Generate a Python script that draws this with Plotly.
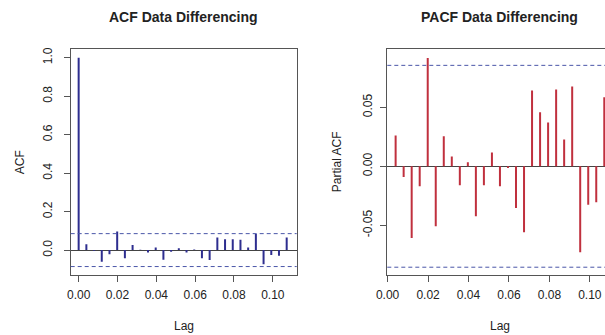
import plotly.graph_objects as go

# ---- data ----
acf_lags = [k / 252 for k in range(0, 28)]
acf_vals = [1.0, 0.031, -0.003, -0.061, -0.021, 0.096, -0.043, 0.026, 0.002,
            -0.012, 0.014, -0.050, -0.009, 0.010, -0.012, 0.003, -0.043, -0.052,
            0.066, 0.057, 0.057, 0.054, 0.014, 0.083, -0.073, -0.026, -0.030, 0.066]
pacf_lags = [k / 252 for k in range(1, 28)]
pacf_vals = [0.026, -0.009, -0.0607, -0.017, 0.0918, -0.0508, 0.0254, 0.0082,
             -0.0161, 0.0034, -0.0424, -0.0161, 0.0116, -0.017, -0.0014, -0.0353,
             -0.0559, 0.0641, 0.0458, 0.037, 0.065, 0.0226, 0.0675, -0.0729,
             -0.0325, -0.0305, 0.0585]
ci = 0.0855
x_ticks = [0.00, 0.02, 0.04, 0.06, 0.08, 0.10]
acf_yticks = [0.0, 0.2, 0.4, 0.6, 0.8, 1.0]
pacf_yticks = [-0.05, 0.0, 0.05]

W, H = 605, 335
FONT = "Liberation Sans, Arial, sans-serif"
TXT = "#222222"


def spikes(xs, ys):
    px, py = [], []
    for x, y in zip(xs, ys):
        px += [x, x, None]
        py += [0, y, None]
    return px, py


fig = go.Figure()
ax, ay = spikes(acf_lags, acf_vals)
fig.add_trace(go.Scatter(x=ax, y=ay, mode="lines", xaxis="x", yaxis="y",
                         line=dict(color="#2e2e8f", width=2), hoverinfo="skip",
                         showlegend=False))
px_, py_ = spikes(pacf_lags, pacf_vals)
fig.add_trace(go.Scatter(x=px_, y=py_, mode="lines", xaxis="x2", yaxis="y2",
                         line=dict(color="#c0303e", width=2), hoverinfo="skip",
                         showlegend=False))

# plot-box pixel geometry
L1, R1 = 70.7, 296.7
L2, R2 = 387.3, 605.0
TOP, BOT = 49.3, 275.0
ydom = [1 - BOT / H, 1 - TOP / H]

axis_common = dict(showgrid=False, showline=True, linecolor="#555555", linewidth=1,
                   ticks="outside", ticklen=6, tickcolor="#555555",
                   ticklabeloverflow="allow",
                   tickfont=dict(family=FONT, size=12, color=TXT))

fig.update_layout(
    width=W, height=H, margin=dict(l=0, r=0, t=0, b=0),
    paper_bgcolor="white", plot_bgcolor="white", showlegend=False,
    hovermode=False,
    xaxis=dict(domain=[L1 / W, R1 / W], range=[-0.0041, 0.1123], anchor="y",
               tickvals=x_ticks, ticktext=[f"{v:.2f}" for v in x_ticks],
               ticklabelstandoff=3,
               zeroline=False, mirror=True, automargin=False, **axis_common),
    yaxis=dict(domain=ydom, range=[-0.1294, 1.0434], anchor="x",
               tickvals=acf_yticks, ticktext=[f"{v:.1f}" for v in acf_yticks],
               tickangle=-90, ticklabelstandoff=7,
               zeroline=True, zerolinecolor="#444444", zerolinewidth=1,
               mirror=True, automargin=False, **axis_common),
    xaxis2=dict(domain=[L2 / W, 1.0], range=[-0.00015, 0.1075], anchor="y2",
                tickvals=x_ticks, ticktext=[f"{v:.2f}" for v in x_ticks],
                ticklabelstandoff=3,
                zeroline=False, mirror=True, automargin=False, **axis_common),
    yaxis2=dict(domain=ydom, range=[-0.0921, 0.0991], anchor="x2",
                tickvals=pacf_yticks, ticktext=[f"{v:.2f}" for v in pacf_yticks],
                tickangle=-90, ticklabelstandoff=4,
                zeroline=True, zerolinecolor="#444444", zerolinewidth=1,
                mirror=False, automargin=False, **axis_common),
)

# confidence bounds
for xr, yr in (("x domain", "y"), ("x2 domain", "y2")):
    for s in (ci, -ci):
        fig.add_shape(type="line", xref=xr, yref=yr, x0=0, x1=1, y0=s, y1=s,
                      line=dict(color="#4a56a8", width=1, dash="4px,3px"))

# titles
def ann(text, x, y, size=12, bold=False, angle=0):
    fig.add_annotation(text=f"<b>{text}</b>" if bold else text, x=x / W, y=1 - y / H,
                       xref="paper", yref="paper", showarrow=False, textangle=angle,
                       font=dict(family=FONT, size=size, color=TXT),
                       xanchor="center", yanchor="middle")

ann("ACF Data Differencing", (L1 + R1) / 2, 17, size=14, bold=True)
ann("PACF Data Differencing", (387.3 + 612) / 2, 17, size=14, bold=True)
ann("Lag", (L1 + R1) / 2, 326)
ann("Lag", (387.3 + 612) / 2, 326)
ann("ACF", 20, (TOP + BOT) / 2, angle=-90)
ann("Partial ACF", 337, (TOP + BOT) / 2, angle=-90)

fig.write_html("out.html", config={"displayModeBar": False},
               post_script="document.body.style.margin='0';document.body.style.overflow='hidden';")
